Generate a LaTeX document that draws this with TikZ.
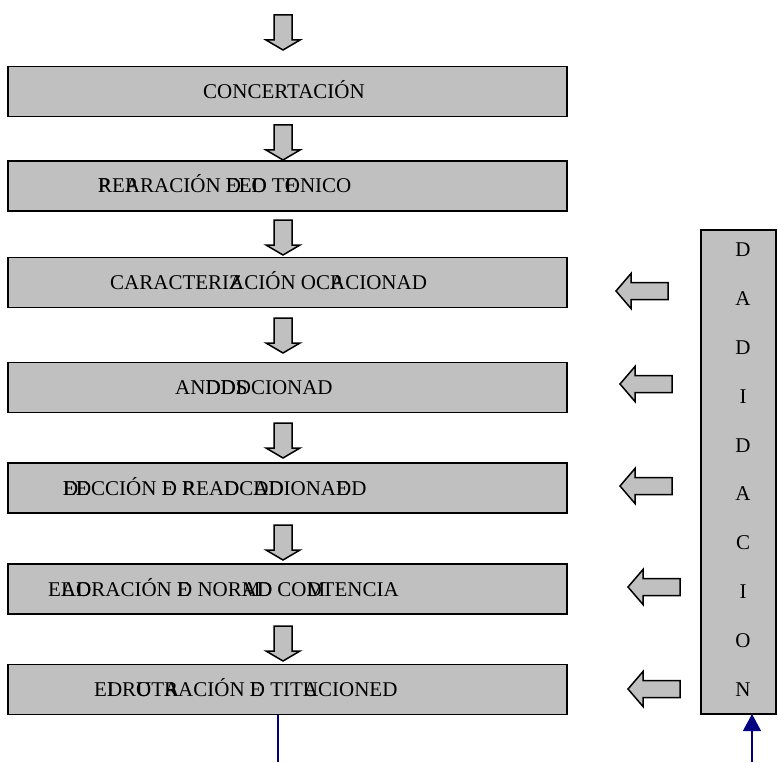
\documentclass[tikz,border=0pt]{standalone}
\usepackage{fontspec}
\setmainfont{Liberation Serif}
\usetikzlibrary{arrows.meta}
\definecolor{boxgray}{HTML}{C0C0C0}
\definecolor{lineblue}{HTML}{000080}
\newcommand\ovl[2]{\makebox[0pt][l]{#1}#2}
\tikzset{
	stagebox/.style={draw,line width=1.6pt,fill=boxgray,minimum width=559pt,minimum height=50pt,inner sep=0pt},
	lbl/.style={anchor=base west,inner sep=0pt,font=\fontsize{21}{24}\selectfont},
	blockarrow/.style={draw,line width=1.5pt,fill=boxgray,line join=miter},
	letter/.style={inner sep=0pt,font=\fontsize{21}{24}\selectfont}
}
\begin{document}
\begin{tikzpicture}[x=1pt,y=-1pt]
		\useasboundingbox (0,0) rectangle (778,762);

		% etapas
		\node[stagebox] (b1) at (287.5,91.5){};
		\node[stagebox] (b2) at (287.5,186){};
		\node[stagebox] (b3) at (287.5,282.5){};
		\node[stagebox] (b4) at (287.5,387.5){};
		\node[stagebox] (b5) at (287.5,488){};
		\node[stagebox] (b6) at (287.5,589){};
		\node[stagebox] (b7) at (287.5,689.5){};

		\node[lbl] (t1) at (203,98.5){CONCERTACIÓN};
		\node[lbl] (t2) at (98,193){\ovl{P}{R}E\ovl{P}{A}RACIÓN \ovl{D}{E}\ovl{L}{E}\ovl{D}{O} T\ovl{E}{O}NICO};
		\node[lbl] (t3) at (110,289.5){CARACTERI\ovl{Z}{A}CIÓN OC\ovl{P}{A}CIONAD};
		\node[lbl] (t4) at (175,394.5){AN\ovl{D}{D}\ovl{D}{D}\ovl{S}{D}CIONAD};
		\node[lbl] (t5) at (63,495){\ovl{D}{E}\ovl{E}{D}CCIÓN \ovl{E}{D} \ovl{P}{R}EA\ovl{D}{D}C\ovl{A}{D}\ovl{D}{D}IONA\ovl{E}{D}D};
		\node[lbl] (t6) at (48,596){E\ovl{L}{A}\ovl{O}{D}RACIÓN \ovl{E}{D} NOR\ovl{M}{A}\ovl{D}{D} CO\ovl{M}{D}TENCIA};
		\node[lbl] (t7) at (94,696.5){E\ovl{I}{D}R\ovl{U}{O}T\ovl{A}{R}ACIÓN \ovl{E}{D} TIT\ovl{U}{A}CIONED};

		% flechas hacia abajo
		\foreach \y in {15,125,220,318,423,525,626}
			\draw[blockarrow] (274,\y)--(292,\y)--(292,\y+25)--(300,\y+25)--(283,\y+35)--(266,\y+25)--(274,\y+25)--cycle;

		% columna derecha
		\node[stagebox,minimum width=75pt,minimum height=484pt] (col) at (738.5,472){};
		\foreach \c [count=\i] in {D,A,D,I,D,A,C,I,O,N}
			\node[letter] (l\i) at (743,250+48.8*\i-48.8){\c};

		% flechas hacia la izquierda
		\foreach \x/\y in {616/291,620/384,620/486,628/587,628/689}
			\draw[blockarrow] (\x,\y)--(\x+15,\y-17.5)--(\x+15,\y-8.5)--(\x+52,\y-8.5)--(\x+52,\y+8.5)--(\x+15,\y+8.5)--(\x+15,\y+17.5)--cycle;

		% lineas azules
		\coordinate (out) at ([xshift=-9.5pt]b7.south);
		\coordinate (outend) at (278,762);
		\draw[lineblue,line width=1.3pt] (out)--(outend);
		\coordinate (inend) at (752,762);
		\coordinate (in) at (752,714);
		\draw[lineblue,line width=1.3pt,-{Triangle[width=18pt,length=17pt]}] (inend)--(in);
	\end{tikzpicture}
\end{document}
